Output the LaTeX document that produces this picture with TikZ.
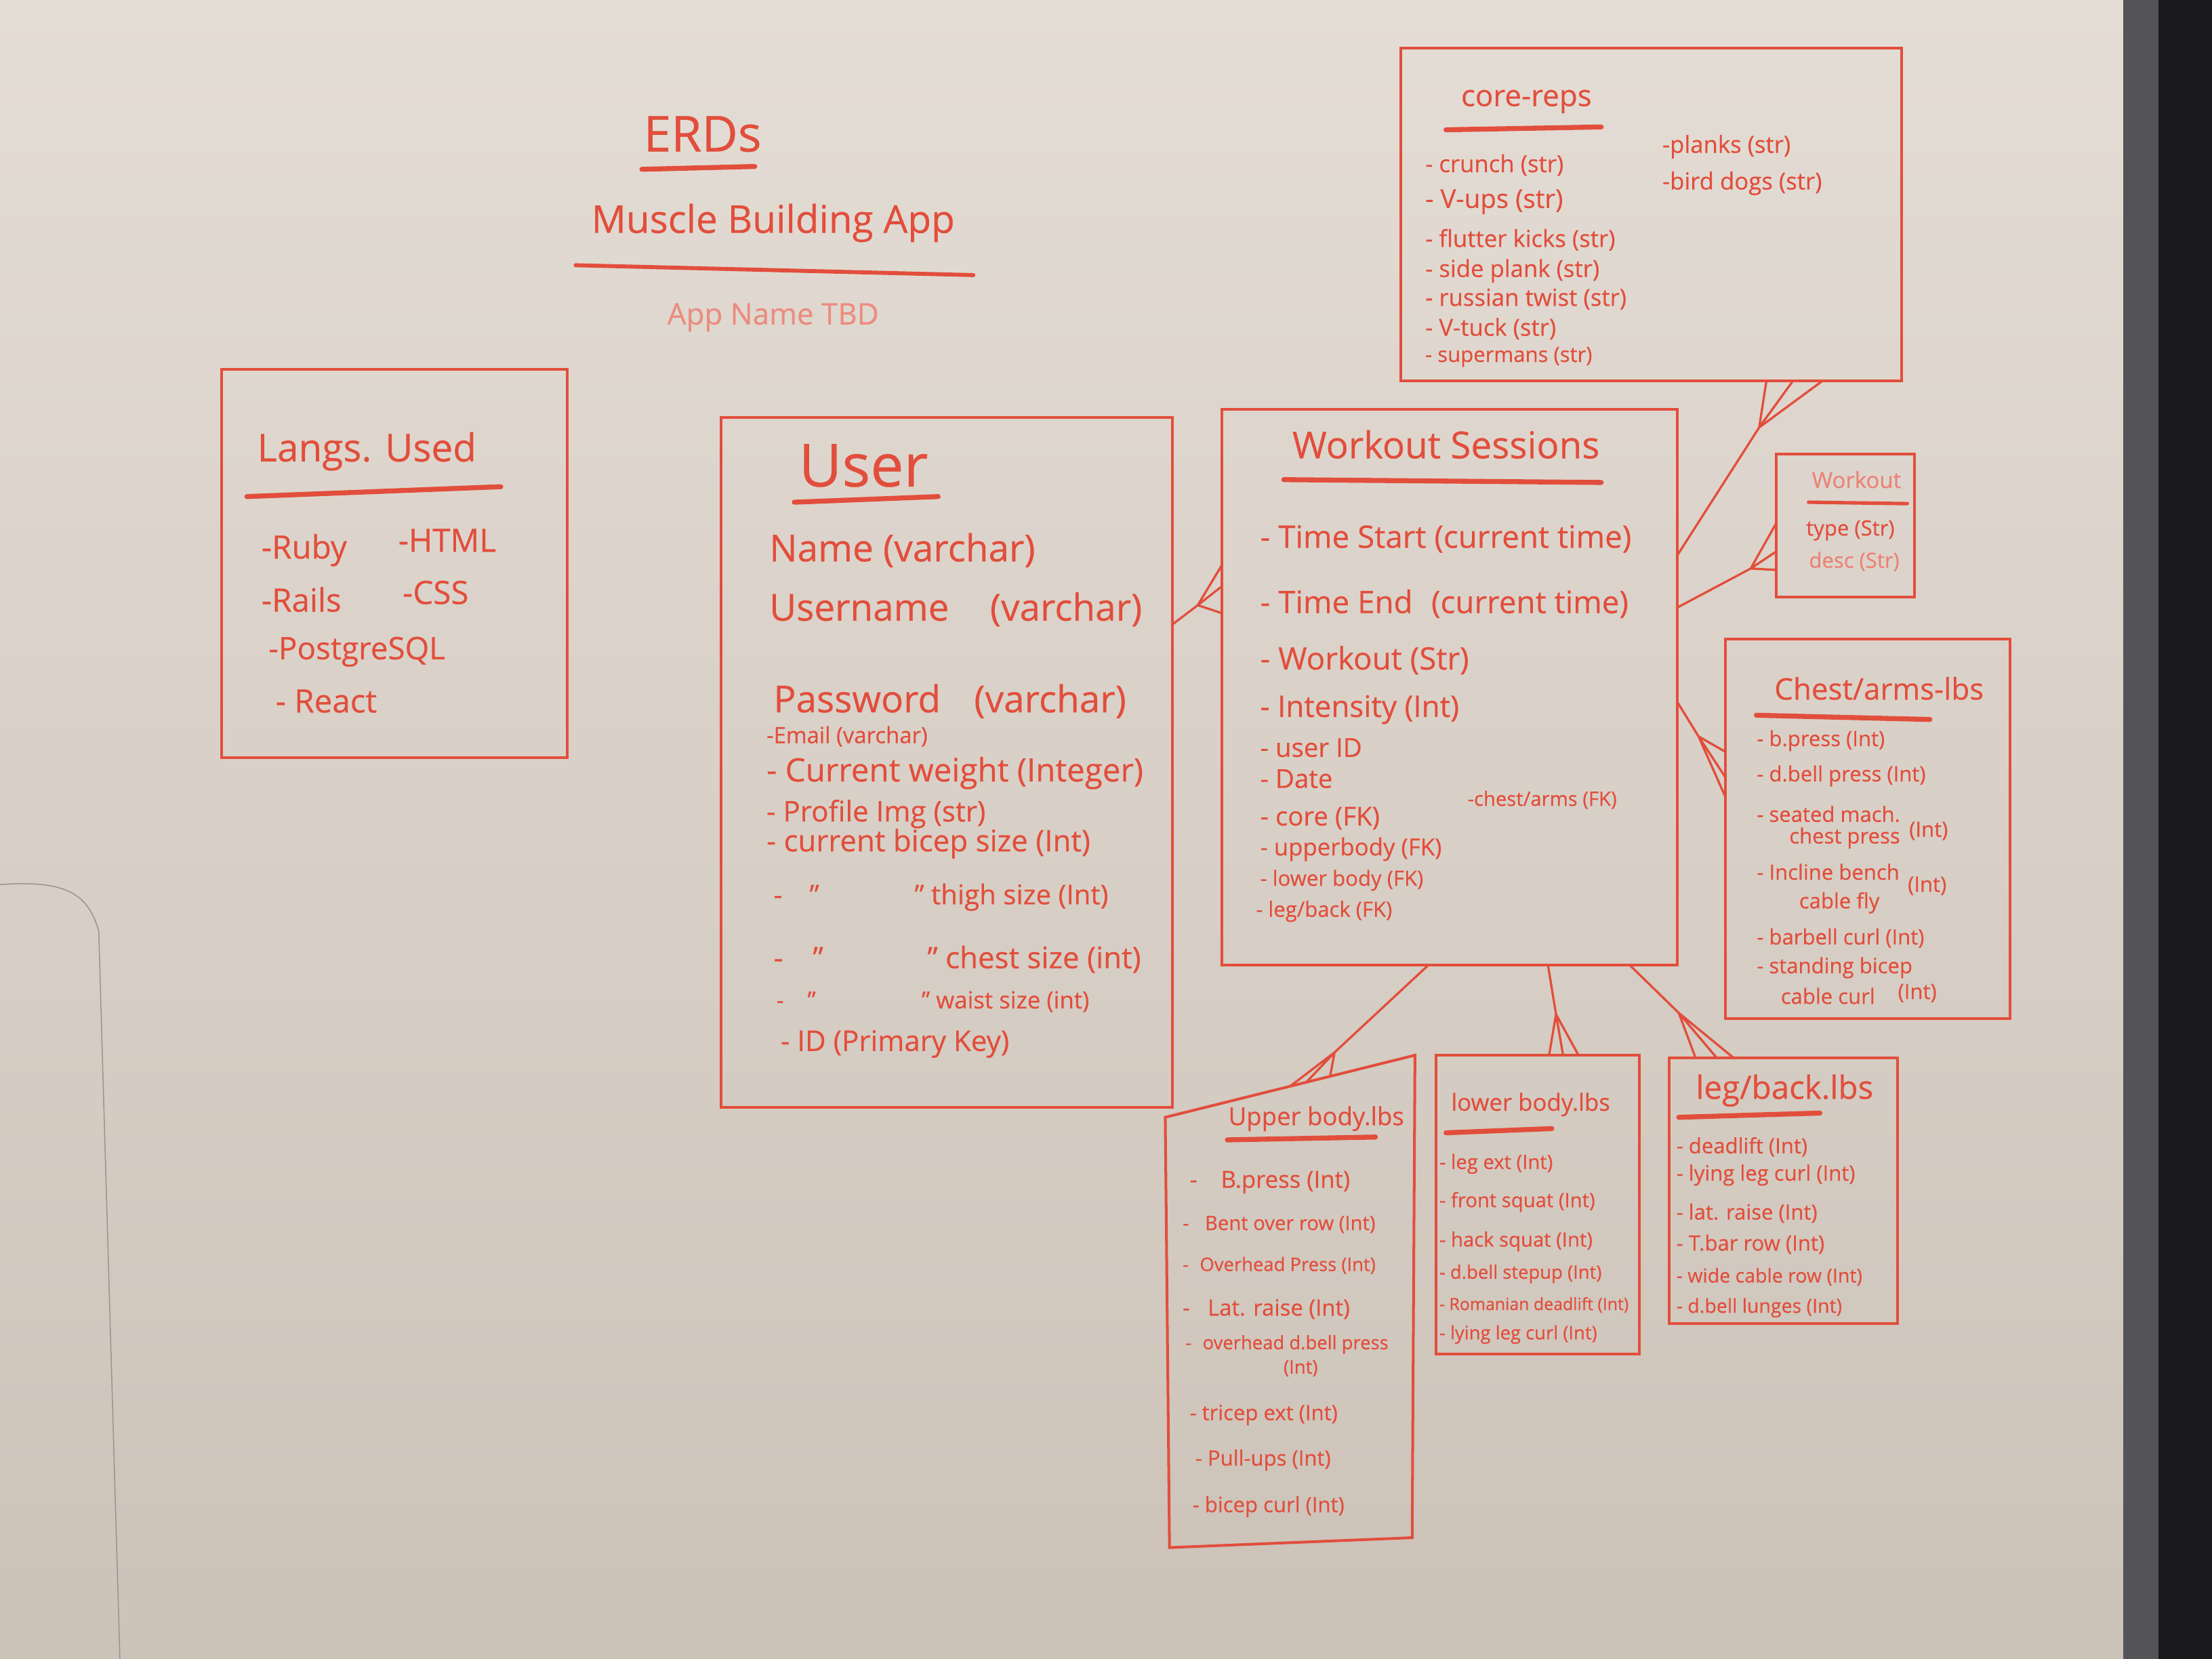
\documentclass[tikz,border=0pt]{standalone}
\usepackage{fontspec}
\setmainfont{Open Sans}[FakeBold=0.4]
\usetikzlibrary{calc,positioning}
\definecolor{marker}{RGB}{226,78,60}
\definecolor{boardtop}{RGB}{228,221,213}
\definecolor{boardbot}{RGB}{204,194,184}
\definecolor{frameg}{RGB}{84,84,88}
\definecolor{frameb}{RGB}{26,26,28}
\newcommand{\fsz}[1]{\fontsize{#1}{#1}\selectfont}
\newcommand{\crowfoot}[5]{\draw[link] #1 -- #2 -- #3 #2 -- #4 #2 -- #5;}
\tikzset{
  entity/.style={draw=marker,line width=1.1pt,inner sep=0pt,outer sep=0pt},
  txt/.style={text=marker,inner sep=0pt,anchor=west},
  ttl/.style={text=marker,inner sep=0pt},
  uline/.style={draw=marker,line width=2pt,line cap=round},
  link/.style={draw=marker,line width=0.9pt,line cap=round},
}

\begin{document}
\begin{tikzpicture}[x=0.02cm,y=-0.02cm]
\useasboundingbox (0,0) rectangle (1568,1176);
% board and frame
\shade[top color=boardtop,bottom color=boardbot] (0,0) rectangle (1505,1176);
\fill[frameg] (1505,0) rectangle (1530,1176);
\fill[frameb] (1530,0) rectangle (1568,1176);
\draw[gray!70!boardbot,line width=0.4pt] (0,627) .. controls (45,624) and (62,632) .. (70,660) -- (85,1176);

% heading
\node[ttl,font=\fsz{20}] (erd) at (498,95) {ERDs};
\draw[uline] (455,120) -- (535,118);
\node[ttl,font=\fsz{15.5}] (app) at (548,158) {Muscle Building App};
\draw[uline,line width=1.6pt] (408,188) -- (690,195);
\node[ttl,font=\fsz{12},text=marker!65] (tbd) at (548,225) {App Name TBD};

% languages
\node[entity,minimum width=4.9cm,minimum height=5.5cm] (langs) at (279.5,399.5) {};
\node[txt,font=\fsz{15.5}] (langt) at (182,320) {Langs. Used};
\draw[uline] (175,352) -- (355,345);
\node[txt,font=\fsz{13}] (lruby) at (185,390) {-Ruby};
\node[txt,font=\fsz{13}] (lhtml) at (282,383) {-HTML};
\node[txt,font=\fsz{13}] (lrails) at (185,425) {-Rails};
\node[txt,font=\fsz{13}] (lcss) at (285,420) {-CSS};
\node[txt,font=\fsz{12.5}] (lpg) at (190,462) {-PostgreSQL};
\node[txt,font=\fsz{13}] (lreact) at (195,497) {- React};

% user
\node[entity,minimum width=6.4cm,minimum height=9.78cm] (user) at (671,540.5) {};
\node[ttl,font=\fsz{24}] (usert) at (612,330) {User};
\draw[uline] (563,356) -- (665,352);
\node[txt,font=\fsz{15}] (uname) at (545,390) {Name (varchar)};
\node[txt,font=\fsz{15}] (uuser) at (545,432) {Username\hspace{1.1em}(varchar)};
\node[txt,font=\fsz{15}] (upass) at (548,497) {Password\hspace{0.9em}(varchar)};
\node[txt,font=\fsz{9}] (umail) at (543,522) {-Email (varchar)};
\node[txt,font=\fsz{13}] (uweight) at (543,548) {- Current weight (Integer)};
\node[txt,font=\fsz{11.5}] (uimg) at (543,577) {- Profile Img (str)};
\node[txt,font=\fsz{12}] (ubicep) at (543,598) {- current bicep size (Int)};
\node[txt,font=\fsz{11}] (uthigh) at (548,636) {-\hspace{1em}"\hspace{3.5em}" thigh size (Int)};
\node[txt,font=\fsz{12}] (uchest) at (548,680) {-\hspace{1em}"\hspace{3.5em}" chest size (int)};
\node[txt,font=\fsz{9.5}] (uwaist) at (550,710) {-\hspace{1em}"\hspace{4.5em}" waist size (int)};
\node[txt,font=\fsz{11.5}] (uid) at (553,740) {- ID (Primary Key)};

% workout sessions
\node[entity,minimum width=6.46cm,minimum height=7.88cm] (ws) at (1027.5,487) {};
\node[ttl,font=\fsz{15}] (wst) at (1025,315) {Workout Sessions};
\draw[uline] (910,340) -- (1135,342);
\node[txt,font=\fsz{12.5}] (wstart) at (893,382) {- Time Start (current time)};
\node[txt,font=\fsz{12.5}] (wend) at (893,428) {- Time End\hspace{0.6em}(current time)};
\node[txt,font=\fsz{12.5}] (wwork) at (893,468) {- Workout (Str)};
\node[txt,font=\fsz{12}] (wint) at (893,503) {- Intensity (Int)};
\node[txt,font=\fsz{10.5}] (wuid) at (893,530) {- user ID};
\node[txt,font=\fsz{10.5}] (wdate) at (893,552) {- Date};
\node[txt,font=\fsz{10.5}] (wcore) at (893,580) {- core (FK)};
\node[txt,font=\fsz{9.5}] (wupper) at (893,602) {- upperbody (FK)};
\node[txt,font=\fsz{8.5}] (wlower) at (893,624) {- lower body (FK)};
\node[txt,font=\fsz{8.5}] (wleg) at (890,646) {- leg/back (FK)};
\node[txt,font=\fsz{8}] (wchest) at (1040,567) {-chest/arms (FK)};

% core reps
\node[entity,minimum width=7.1cm,minimum height=4.72cm] (core) at (1170.5,152) {};
\node[ttl,font=\fsz{12}] (coret) at (1082,72) {core-reps};
\draw[uline] (1025,92) -- (1135,90);
\node[txt,font=\fsz{9.5}] (c1) at (1010,117) {- crunch (str)};
\node[txt,font=\fsz{10.5}] (c2) at (1010,143) {- V-ups (str)};
\node[txt,font=\fsz{9.5}] (c3) at (1010,170) {- flutter kicks (str)};
\node[txt,font=\fsz{9.5}] (c4) at (1010,192) {- side plank (str)};
\node[txt,font=\fsz{9.5}] (c5) at (1010,212) {- russian twist (str)};
\node[txt,font=\fsz{9.5}] (c6) at (1010,233) {- V-tuck (str)};
\node[txt,font=\fsz{8.5}] (c7) at (1010,253) {- supermans (str)};
\node[txt,font=\fsz{9.5}] (c8) at (1178,104) {-planks (str)};
\node[txt,font=\fsz{9.5}] (c9) at (1178,130) {-bird dogs (str)};

% workout
\node[entity,minimum width=1.96cm,minimum height=2.02cm] (wkt) at (1308,372.5) {};
\node[ttl,font=\fsz{9},text=marker!70] (wktt) at (1316,340) {Workout};
\draw[uline,line width=1.4pt] (1282,356) -- (1352,357);
\node[txt,font=\fsz{8.5}] (wk1) at (1280,376) {type (Str)};
\node[txt,font=\fsz{8.5},text=marker!70] (wk2) at (1282,398) {desc (Str)};

% chest / arms
\node[entity,minimum width=4.04cm,minimum height=5.38cm] (chest) at (1324,587.5) {};
\node[ttl,font=\fsz{12}] (chestt) at (1332,488) {Chest/arms-lbs};
\draw[uline] (1245,507) -- (1368,510);
\node[txt,font=\fsz{8.5}] (ch1) at (1245,525) {- b.press (Int)};
\node[txt,font=\fsz{8.5}] (ch2) at (1245,550) {- d.bell press (Int)};
\node[txt,font=\fsz{8.5}] (ch3) at (1245,577) {- seated mach.};
\node[txt,font=\fsz{8.5}] (ch3b) at (1268,594) {chest press};
\node[txt,font=\fsz{8.5}] (ch3c) at (1353,589) {(Int)};
\node[txt,font=\fsz{8.5}] (ch4) at (1245,618) {- Incline bench};
\node[txt,font=\fsz{8.5}] (ch4b) at (1275,640) {cable fly};
\node[txt,font=\fsz{8.5}] (ch4c) at (1352,628) {(Int)};
\node[txt,font=\fsz{8.5}] (ch5) at (1245,665) {- barbell curl (Int)};
\node[txt,font=\fsz{8.5}] (ch6) at (1245,686) {- standing bicep};
\node[txt,font=\fsz{8.5}] (ch6b) at (1262,706) {cable curl};
\node[txt,font=\fsz{8.5}] (ch6c) at (1345,704) {(Int)};

% upper body
\coordinate (ub1) at (826,792);
\coordinate (ub2) at (1003,748);
\coordinate (ub3) at (1001,1090);
\coordinate (ub4) at (829,1097);
\draw[entity] (ub1) -- (ub2) -- (ub3) -- (ub4) -- cycle;
\node[ttl,font=\fsz{10}] (uppert) at (933,793) {Upper body.lbs};
\draw[uline] (870,808) -- (975,806);
\node[txt,font=\fsz{9.5}] (ub1t) at (843,838) {-\hspace{1em}B.press (Int)};
\node[txt,font=\fsz{8}] (ub2t) at (838,868) {-\hspace{0.8em}Bent over row (Int)};
\node[txt,font=\fsz{7.5}] (ub3t) at (838,897) {-\hspace{0.6em}Overhead Press (Int)};
\node[txt,font=\fsz{9}] (ub4t) at (838,928) {-\hspace{0.8em}Lat. raise (Int)};
\node[txt,font=\fsz{7.5}] (ub5t) at (840,953) {-\hspace{0.6em}overhead d.bell press};
\node[ttl,font=\fsz{7.5}] (ub5b) at (922,970) {(Int)};
\node[txt,font=\fsz{8.5}] (ub6t) at (843,1003) {- tricep ext (Int)};
\node[txt,font=\fsz{8.5}] (ub7t) at (847,1035) {- Pull-ups (Int)};
\node[txt,font=\fsz{8.5}] (ub8t) at (845,1068) {- bicep curl (Int)};

% lower body
\node[entity,minimum width=2.88cm,minimum height=4.24cm] (lower) at (1090,854) {};
\node[ttl,font=\fsz{9.5}] (lowert) at (1085,783) {lower body.lbs};
\draw[uline] (1025,803) -- (1100,800);
\node[txt,font=\fsz{8}] (lb1) at (1020,825) {- leg ext (Int)};
\node[txt,font=\fsz{8}] (lb2) at (1020,852) {- front squat (Int)};
\node[txt,font=\fsz{8}] (lb3) at (1020,880) {- hack squat (Int)};
\node[txt,font=\fsz{7.5}] (lb4) at (1020,903) {- d.bell stepup (Int)};
\node[txt,font=\fsz{6.8}] (lb5) at (1020,925) {- Romanian deadlift (Int)};
\node[txt,font=\fsz{7.5}] (lb6) at (1020,946) {- lying leg curl (Int)};

% leg / back
\node[entity,minimum width=3.24cm,minimum height=3.76cm] (legb) at (1264,844) {};
\node[ttl,font=\fsz{13}] (legbt) at (1265,773) {leg/back.lbs};
\draw[uline] (1190,792) -- (1290,789);
\node[txt,font=\fsz{8.5}] (lg1) at (1188,813) {- deadlift (Int)};
\node[txt,font=\fsz{8.5}] (lg2) at (1188,833) {- lying leg curl (Int)};
\node[txt,font=\fsz{8.5}] (lg3) at (1188,860) {- lat. raise (Int)};
\node[txt,font=\fsz{8.5}] (lg4) at (1188,882) {- T.bar row (Int)};
\node[txt,font=\fsz{7.8}] (lg5) at (1188,905) {- wide cable row (Int)};
\node[txt,font=\fsz{7.8}] (lg6) at (1188,927) {- d.bell lunges (Int)};

% relations (crow's foot on the many side)
\coordinate (jus) at (849,429);
\coordinate (jcore) at (1247,303);
\coordinate (jwkt) at (1241,403);
\coordinate (jchest) at (1204,522);
\coordinate (jupper) at (946,746);
\coordinate (jlower) at (1103,719);
\coordinate (jlegb) at (1190,718);
\crowfoot{($(user.north east)!0.30!(user.south east)$)}{(jus)}{($(ws.north west)!0.281!(ws.south west)$)}{($(ws.north west)!0.319!(ws.south west)$)}{($(ws.north west)!0.367!(ws.south west)$)}
\crowfoot{($(ws.north east)!0.263!(ws.south east)$)}{(jcore)}{($(core.south west)!0.730!(core.south east)$)}{($(core.south west)!0.783!(core.south east)$)}{($(core.south west)!0.842!(core.south east)$)}
\crowfoot{($(ws.north east)!0.357!(ws.south east)$)}{(jwkt)}{($(wkt.north west)!0.485!(wkt.south west)$)}{($(wkt.north west)!0.683!(wkt.south west)$)}{($(wkt.north west)!0.812!(wkt.south west)$)}
\crowfoot{($(ws.north east)!0.527!(ws.south east)$)}{(jchest)}{($(chest.north west)!0.297!(chest.south west)$)}{($(chest.north west)!0.364!(chest.south west)$)}{($(chest.north west)!0.416!(chest.south west)$)}
\crowfoot{($(ws.south west)!0.454!(ws.south east)$)}{(jupper)}{($(ub1)!0.50!(ub2)$)}{($(ub1)!0.565!(ub2)$)}{($(ub1)!0.66!(ub2)$)}
\crowfoot{($(ws.south west)!0.716!(ws.south east)$)}{(jlower)}{($(lower.north west)!0.556!(lower.north east)$)}{($(lower.north west)!0.625!(lower.north east)$)}{($(lower.north west)!0.701!(lower.north east)$)}
\crowfoot{($(ws.south west)!0.895!(ws.south east)$)}{(jlegb)}{($(legb.north west)!0.117!(legb.north east)$)}{($(legb.north west)!0.210!(legb.north east)$)}{($(legb.north west)!0.284!(legb.north east)$)}
\end{tikzpicture}
\end{document}
